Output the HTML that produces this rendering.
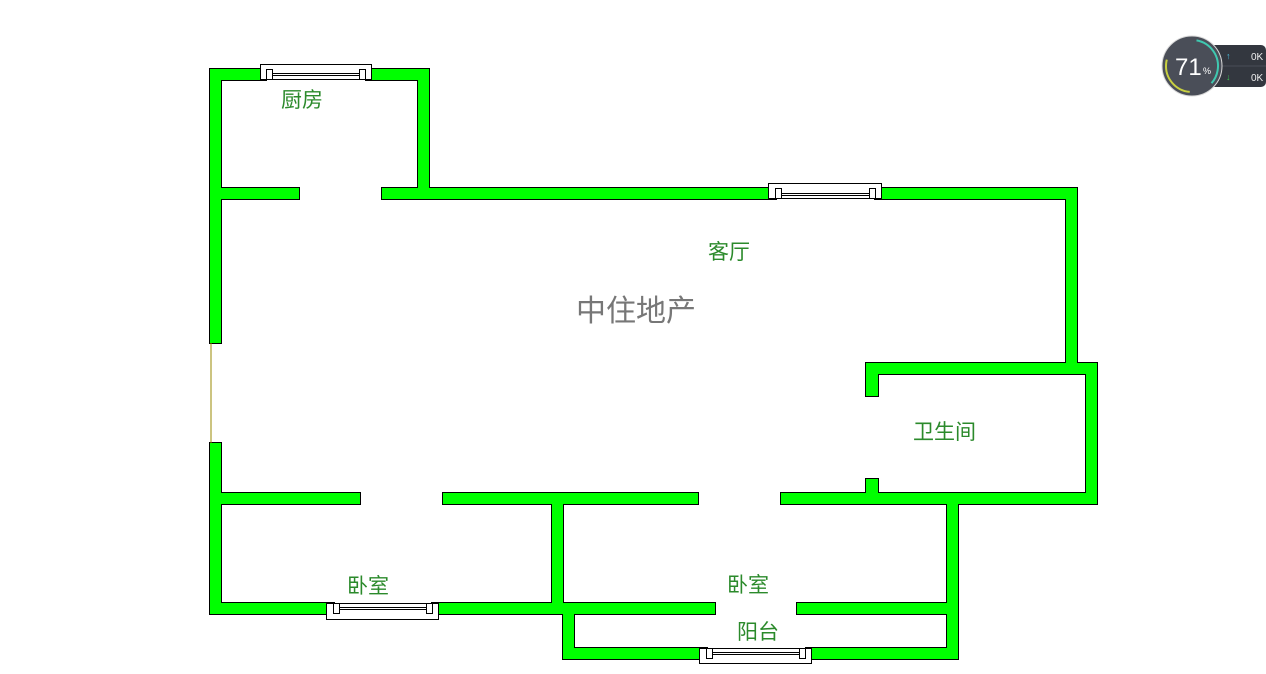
<!DOCTYPE html>
<html><head><meta charset="utf-8"><style>
html,body{margin:0;padding:0;background:#fff;width:1266px;height:674px;overflow:hidden}
svg{position:absolute;left:0;top:0}
.l{font-family:"Liberation Sans","Noto Sans CJK SC",sans-serif;font-size:21px;fill:#2b8a2b}
</style></head><body>
<svg width="1266" height="674" viewBox="0 0 1266 674">
<g id="walls">
<g fill="#000">
<rect x="209" y="68" width="58" height="13"/><rect x="365" y="68" width="65" height="13"/>
<rect x="209" y="68" width="13" height="276"/>
<rect x="417" y="68" width="13" height="132"/>
<rect x="209" y="187" width="91" height="13"/>
<rect x="381" y="187" width="396" height="13"/><rect x="874" y="187" width="204" height="13"/>
<rect x="1065" y="187" width="13" height="188"/>
<rect x="865" y="362" width="233" height="13"/>
<rect x="1085" y="362" width="13" height="143"/>
<rect x="865" y="362" width="14" height="35"/>
<rect x="865" y="478" width="14" height="27"/>
<rect x="209" y="492" width="152" height="13"/>
<rect x="442" y="492" width="257" height="13"/>
<rect x="780" y="492" width="318" height="13"/>
<rect x="209" y="442" width="13" height="173"/>
<rect x="209" y="602" width="126" height="13"/><rect x="431" y="602" width="133" height="13"/>
<rect x="551" y="492" width="13" height="123"/>
<rect x="551" y="602" width="165" height="13"/><rect x="796" y="602" width="163" height="13"/>
<rect x="946" y="492" width="13" height="168"/>
<rect x="562" y="602" width="13" height="58"/>
<rect x="562" y="647" width="146" height="13"/><rect x="805" y="647" width="154" height="13"/>
</g>
<g fill="#00ff00">
<rect x="210" y="69" width="56" height="11"/><rect x="366" y="69" width="63" height="11"/>
<rect x="210" y="69" width="11" height="274"/>
<rect x="418" y="69" width="11" height="130"/>
<rect x="210" y="188" width="89" height="11"/>
<rect x="382" y="188" width="394" height="11"/><rect x="875" y="188" width="202" height="11"/>
<rect x="1066" y="188" width="11" height="186"/>
<rect x="866" y="363" width="231" height="11"/>
<rect x="1086" y="363" width="11" height="141"/>
<rect x="866" y="363" width="12" height="33"/>
<rect x="866" y="479" width="12" height="25"/>
<rect x="210" y="493" width="150" height="11"/>
<rect x="443" y="493" width="255" height="11"/>
<rect x="781" y="493" width="316" height="11"/>
<rect x="210" y="443" width="11" height="171"/>
<rect x="210" y="603" width="124" height="11"/><rect x="432" y="603" width="131" height="11"/>
<rect x="552" y="493" width="11" height="121"/>
<rect x="552" y="603" width="163" height="11"/><rect x="797" y="603" width="161" height="11"/>
<rect x="947" y="493" width="11" height="166"/>
<rect x="563" y="603" width="11" height="56"/>
<rect x="563" y="648" width="144" height="11"/><rect x="806" y="648" width="152" height="11"/>
</g>
<line x1="211" y1="343" x2="211" y2="443" stroke="#9a8a00" stroke-width="1"/>
</g>
<g fill="#fff" stroke="#000" stroke-width="1">
<rect x="260.5" y="64.5" width="111" height="15"/>
<rect x="266.5" y="69.5" width="6" height="10"/><rect x="359.5" y="69.5" width="6" height="10"/>
<line x1="272" y1="73.5" x2="360" y2="73.5"/><line x1="272" y1="75.5" x2="360" y2="75.5"/>
<rect x="768.5" y="183.5" width="113" height="15"/>
<rect x="775.5" y="188.5" width="6" height="10"/><rect x="869.5" y="188.5" width="6" height="10"/>
<line x1="781" y1="193.5" x2="870" y2="193.5"/><line x1="781" y1="195.5" x2="870" y2="195.5"/>
<rect x="326.5" y="603.5" width="112" height="16"/>
<rect x="333.5" y="603.5" width="6" height="10"/><rect x="426.5" y="603.5" width="6" height="10"/>
<line x1="339" y1="607.5" x2="427" y2="607.5"/><line x1="339" y1="609.5" x2="427" y2="609.5"/>
<rect x="699.5" y="648.5" width="112" height="15"/>
<rect x="706.5" y="648.5" width="6" height="10"/><rect x="799.5" y="648.5" width="6" height="10"/>
<line x1="712" y1="652.5" x2="800" y2="652.5"/><line x1="712" y1="654.5" x2="800" y2="654.5"/>
</g>
<text class="l" x="281" y="107">厨房</text>
<text class="l" x="708" y="259">客厅</text>
<text x="576" y="321" style="font-family:'Liberation Sans','Noto Sans CJK SC',sans-serif;font-size:30px;fill:#777">中住地产</text>
<text class="l" x="913" y="439">卫生间</text>
<text class="l" x="347" y="593">卧室</text>
<text class="l" x="727" y="592">卧室</text>
<text class="l" x="737" y="639">阳台</text>
<rect x="1205" y="45" width="61" height="42" rx="5" fill="#33373f"/>
<line x1="1222" y1="66" x2="1266" y2="66" stroke="#4a4e57"/>
<text x="1226" y="59" font-size="9" fill="#4ac0e0" font-family="Liberation Sans">↑</text>
<text x="1226" y="80" font-size="9" fill="#3ac050" font-family="Liberation Sans">↓</text>
<text x="1251" y="60" font-size="10" fill="#eee" font-family="Liberation Sans">0K</text>
<text x="1251" y="81" font-size="10" fill="#eee" font-family="Liberation Sans">0K</text>
<circle cx="1192" cy="66" r="30" fill="#4a4e58" stroke="#d8d8d8" stroke-width="1"/>
<circle cx="1192" cy="66" r="26" fill="none" stroke="#3fc8b0" stroke-width="2" stroke-dasharray="55 200" transform="rotate(-80 1192 66)"/>
<circle cx="1192" cy="66" r="26" fill="none" stroke="#c8d040" stroke-width="2" stroke-dasharray="45 200" transform="rotate(95 1192 66)"/>
<text x="1175" y="75" font-size="24" fill="#fff" font-family="Liberation Sans">71</text>
<text x="1203" y="74" font-size="9" fill="#fff" font-family="Liberation Sans">%</text>
</svg>
</body></html>
